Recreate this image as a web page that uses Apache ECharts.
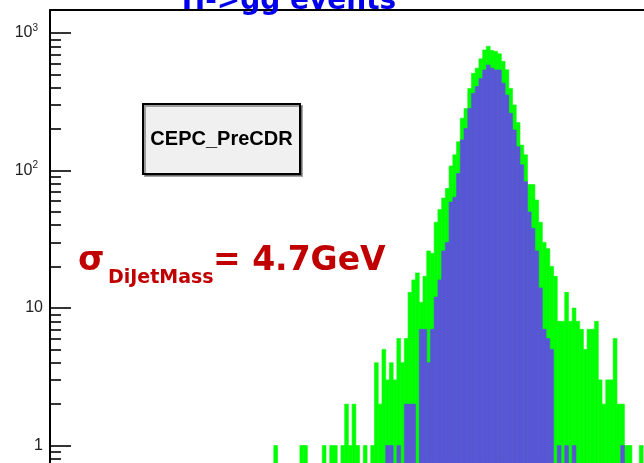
<!DOCTYPE html>
<html>
<head>
<meta charset="utf-8">
<script src="https://cdn.jsdelivr.net/npm/echarts@6/dist/echarts.min.js"></script>
<style>
html,body{margin:0;padding:0;background:#fff;}
#chart{width:644px;height:463px;}
</style>
</head>
<body>
<div id="chart"></div>
<script>
// ---- data (di-jet mass histogram, 1 GeV bins, lower bin edge in GeV) ----
const massBinLow = [
  66,67,68,69,70,71,72,73,74,75,
  76,77,78,79,80,81,82,83,84,85,
  86,87,88,89,90,91,92,93,94,95,
  96,97,98,99,100,101,102,103,104,105,
  106,107,108,109,110,111,112,113,114,115,
  116,117,118,119,120,121,122,123,124,125,
  126,127,128,129,130,131,132,133,134,135,
  136,137,138,139,140,141,142,143,144,145,
  146,147,148,149,150,151,152,153,154,155,
  156,157,158,159,160,161,162,163,164,165,
  166
];
const binWidth = 1;
// green histogram (all events)
const allEvents = [
  0,1,0,0,0,0,0,0,1,1,
  0,0,0,0,1,0,1,1,0,1,
  2,1,2,1,0,1,0,1,4,2,
  5,3,4,3,6,4,6,13,16,18,
  11,17,26,25,42,52,63,74,108,130,
  162,240,282,395,509,555,649,753,800,745,
  735,706,622,540,395,300,223,153,130,79,
  79,61,42,30,27,20,17,8,8,13,
  8,10,8,7,5,7,7,8,3,2,
  3,3,6,2,2,1,1,0,0,1,
  0
];
// blue histogram (selected events)
const selectedEvents = [
  0,0,0,0,0,0,0,0,0,0,
  0,0,0,0,0,0,0,0,0,0,
  0,0,0,0,0,0,0,0,0,0,
  0,1,1,0,1,0,2,2,2,0,
  7,7,4,7,12,16,26,30,59,64,
  95,167,202,282,364,408,466,539,585,555,
  539,539,432,354,261,197,149,110,83,50,
  38,26,14,7,6,5,0,1,0,1,
  0,1,0,0,0,0,0,0,0,0,
  0,0,0,0,1,0,0,0,0,0,
  0
];
const yMajorTicks = [1, 10, 100, 1000];
const yMinorTicks = [0.8,0.9, 2,3,4,5,6,7,8,9, 20,30,40,50,60,70,80,90, 200,300,400,500,600,700,800,900];
const yTickLabels = ['{b|1}', '{b|10}', '{b|10}{sup|2}', '{b|10}{sup|3}'];
const xMin = 7, xMax = 166.25;
const yMin = 0.746, yMax = 1470;

const titleText = 'H->gg events';
const boxText = 'CEPC_PreCDR';

const chart = echarts.init(document.getElementById('chart'), null, {renderer: 'canvas'});

function histRenderer(color) {
  return function (params, api) {
    const lo = api.value(0);
    const cnt = api.value(1);
    if (!cnt) return null;
    const pTop = api.coord([lo, cnt]);
    const pBot = api.coord([lo + binWidth, yMin]);
    return {
      type: 'rect',
      shape: {x: pTop[0], y: pTop[1], width: pBot[0] - pTop[0], height: pBot[1] - pTop[1]},
      style: {fill: color, stroke: color, lineWidth: 0.6}
    };
  };
}

const labelFont = 'Liberation Sans, Arial, sans-serif';

const option = {
  backgroundColor: '#ffffff',
  animation: false,
  grid: {left: 50, top: 10, right: 0, bottom: 0, containLabel: false, outerBoundsMode: 'none'},
  xAxis: {
    type: 'value', min: xMin, max: xMax, position: 'top',
    axisLine: {show: true, lineStyle: {color: '#000', width: 2}},
    axisTick: {show: false}, axisLabel: {show: false}, splitLine: {show: false}
  },
  yAxis: [
    {
      type: 'log', min: yMin, max: yMax, position: 'left',
      axisLine: {show: true, lineStyle: {color: '#000', width: 2}},
      axisTick: {show: true, inside: true, length: 21, lineStyle: {color: '#000', width: 1.6}, customValues: yMajorTicks},
      minorTick: {show: false},
      splitLine: {show: false},
      axisLabel: {
        show: true, margin: 7, customValues: yMajorTicks,
        formatter: function (v) {
          const i = Math.round(Math.log10(v));
          return yTickLabels[i] || '';
        },
        rich: {
          b: {fontSize: 16, fontFamily: labelFont, color: '#222', lineHeight: 20},
          sup: {fontSize: 10, fontFamily: labelFont, color: '#222', lineHeight: 10, verticalAlign: 'top', padding: [0, 5, 0, 0]}
        }
      }
    },
    {
      type: 'log', min: yMin, max: yMax, position: 'left',
      axisLine: {show: false},
      axisTick: {show: true, inside: true, length: 11, lineStyle: {color: '#000', width: 1.6}, customValues: yMinorTicks},
      axisLabel: {show: false},
      minorTick: {show: false},
      splitLine: {show: false}
    }
  ],
  series: [
    {
      name: 'all', type: 'custom', xAxisIndex: 0, yAxisIndex: 0, clip: true,
      renderItem: histRenderer('#00ff00'),
      data: massBinLow.map((g, i) => [g, allEvents[i]])
    },
    {
      name: 'selected', type: 'custom', xAxisIndex: 0, yAxisIndex: 0, clip: true,
      renderItem: histRenderer('#5956d6'),
      data: massBinLow.map((g, i) => [g, selectedEvents[i]])
    }
  ],
  graphic: [
    {
      type: 'text', x: 289, y: 2, z: 100,
      style: {text: titleText, fontFamily: 'DejaVu Sans', fontWeight: 'bold', fontSize: 28, fill: '#0000ee',
              align: 'center', verticalAlign: 'middle', textAlign: 'center', textVerticalAlign: 'middle'}
    },
    {
      type: 'rect', z: 100,
      shape: {x: 143, y: 104, width: 157, height: 70},
      style: {fill: '#f0f0f0', stroke: '#000', lineWidth: 2, shadowColor: 'rgba(0,0,0,0.35)', shadowOffsetX: 2, shadowOffsetY: 2, shadowBlur: 0}
    },
    {
      type: 'text', x: 221.5, y: 139, z: 101,
      style: {text: boxText, fontFamily: 'Liberation Sans', fontWeight: 'bold', fontSize: 20, fill: '#000',
              align: 'center', verticalAlign: 'middle', textAlign: 'center', textVerticalAlign: 'middle'}
    },
    {
      type: 'text', x: 78, y: 261, z: 100,
      style: {text: 'σ', fontFamily: 'DejaVu Sans', fontWeight: 'bold', fontSize: 34, fill: '#c00000',
              align: 'left', verticalAlign: 'middle', textAlign: 'left', textVerticalAlign: 'middle'}
    },
    {
      type: 'text', x: 108, y: 278, z: 100,
      style: {text: 'DiJetMass', fontFamily: 'DejaVu Sans', fontWeight: 'bold', fontSize: 19, fill: '#c00000',
              align: 'left', verticalAlign: 'middle', textAlign: 'left', textVerticalAlign: 'middle'}
    },
    {
      type: 'text', x: 213, y: 261, z: 100,
      style: {text: '= 4.7GeV', fontFamily: 'DejaVu Sans', fontWeight: 'bold', fontSize: 33, fill: '#c00000',
              align: 'left', verticalAlign: 'middle', textAlign: 'left', textVerticalAlign: 'middle'}
    }
  ]
};
chart.setOption(option);
</script>
</body>
</html>
